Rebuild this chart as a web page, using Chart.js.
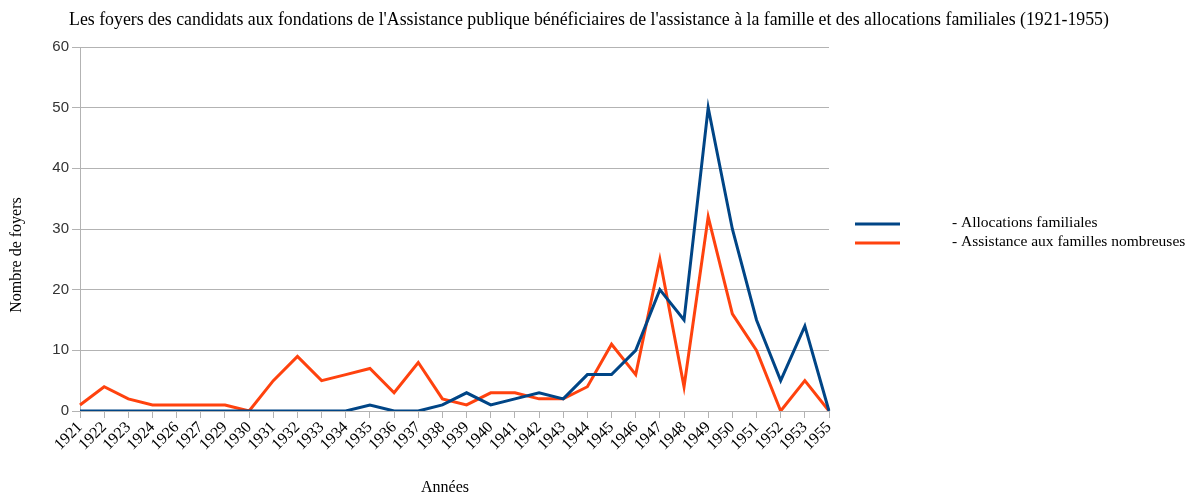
<!DOCTYPE html>
<html><head><meta charset="utf-8">
<script src="https://cdn.jsdelivr.net/npm/chart.js@4.4.1/dist/chart.umd.min.js"></script>
<style>html,body{margin:0;padding:0;background:#fff}#wrap{width:1186px;height:495px}</style>
</head><body><div id="wrap"><canvas id="c" width="1186" height="495"></canvas></div>
<script>
const years = ['1921','1922','1923','1924','1926','1927','1929','1930','1931','1932','1933','1934','1935','1936','1937','1938','1939','1940','1941','1942','1943','1944','1945','1946','1947','1948','1949','1950','1951','1952','1953','1955'];
const allocations = [0,0,0,0,0,0,0,0,0,0,0,0,1,0,0,1,3,1,2,3,2,6,6,10,20,15,50,30,15,5,14,0];
const assistance = [1,4,2,1,1,1,1,0,5,9,5,6,7,3,8,2,1,3,3,2,2,4,11,6,25,4,32,16,10,0,5,0];
const seriesNames = ['- Allocations familiales','- Assistance aux familles nombreuses'];
const titleText = "Les foyers des candidats aux fondations de l'Assistance publique bénéficiaires de l'assistance à la famille et des allocations familiales (1921-1955)";
const yTitle = 'Nombre de foyers';
const xTitle = 'Années';

const serif = "'Liberation Serif','DejaVu Serif',serif";

const textPlugin = {
  id: 'customTexts',
  afterDraw(chart) {
    const ctx = chart.ctx;
    ctx.save();
    // title
    ctx.fillStyle = '#000';
    ctx.textAlign = 'center';
    ctx.textBaseline = 'middle';
    ctx.font = "17.8px " + serif;
    ctx.fillText(titleText, 589, 20);
    // x title
    ctx.font = "16px " + serif;
    ctx.fillText(xTitle, 445, 488);
    // y title
    ctx.save();
    ctx.translate(17, 255);
    ctx.rotate(-Math.PI / 2);
    ctx.fillText(yTitle, 0, 0);
    ctx.restore();
    // legend
    ctx.textAlign = 'left';
    chart.data.datasets.forEach((ds, i) => {
      const y = 224 + i * 19;
      ctx.strokeStyle = ds.borderColor;
      ctx.lineWidth = 3;
      ctx.beginPath();
      ctx.moveTo(855, y);
      ctx.lineTo(900, y);
      ctx.stroke();
      ctx.fillStyle = '#000';
      ctx.font = "15.5px " + serif;
      ctx.fillText(ds.label, 952, y - 1);
    });
    ctx.restore();
  }
};

new Chart(document.getElementById('c'), {
  type: 'line',
  data: {
    labels: years,
    datasets: [
      {label: seriesNames[0], data: allocations, borderColor: '#004586', backgroundColor: '#004586', borderWidth: 3, pointRadius: 0, tension: 0},
      {label: seriesNames[1], data: assistance, borderColor: '#ff420e', backgroundColor: '#ff420e', borderWidth: 3, pointRadius: 0, tension: 0}
    ]
  },
  options: {
    responsive: false,
    animation: false,
    layout: {padding: {left: 0, right: 357, top: 47, bottom: 0}},
    plugins: {
      legend: {display: false},
      tooltip: {enabled: false},
      title: {display: false}
    },
    scales: {
      x: {
        offset: false,
        grid: {display: true, drawOnChartArea: false, drawTicks: true, tickLength: 7, color: '#b3b3b3'},
        border: {color: '#b3b3b3'},
        ticks: {color: '#000', font: {family: serif, size: 16}, minRotation: 45, maxRotation: 45, autoSkip: false, padding: 0},
        afterFit(scale) { scale.height = 84; }
      },
      y: {
        min: 0, max: 60,
        grid: {color: '#b3b3b3', tickLength: 8, drawTicks: true},
        border: {color: '#b3b3b3'},
        ticks: {stepSize: 10, color: '#333', font: {family: "'Liberation Sans',sans-serif", size: 15}, padding: 3},
        afterFit(scale) { scale.width = 80; }
      }
    }
  },
  plugins: [textPlugin]
});
</script></body></html>
